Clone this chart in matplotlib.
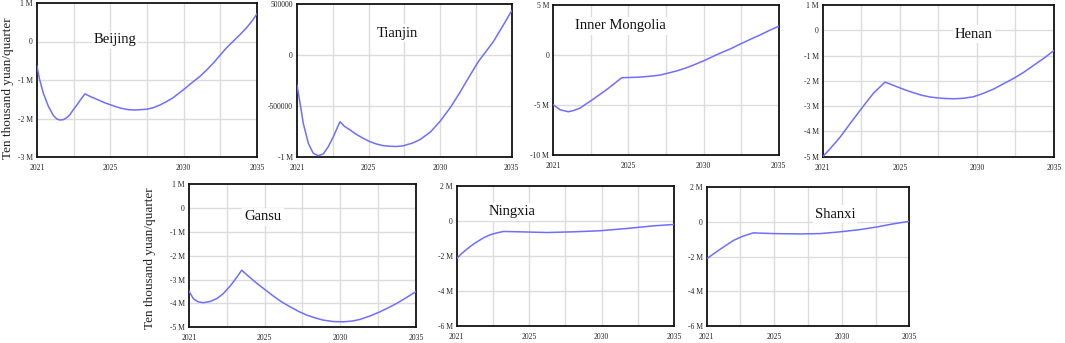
import matplotlib
matplotlib.use("Agg")
import matplotlib.pyplot as plt
import numpy as np

W, H = 1065, 343
plt.rcParams['font.family'] = ['Liberation Serif', 'DejaVu Serif']

# ---- data (values in millions of ten-thousand yuan / quarter) ----
beijing_t = [2021.00, 2021.15, 2021.40, 2021.72, 2022.04, 2022.25, 2022.46, 2022.68, 2022.89, 2023.10,
             2023.31, 2023.52, 2023.74, 2024.05, 2024.40, 2024.80, 2025.30, 2025.86, 2026.30, 2026.81,
             2027.23, 2027.97, 2028.40, 2028.82, 2029.25, 2029.66, 2030.30, 2030.80, 2031.36, 2031.80,
             2032.20, 2032.60, 2033.05, 2033.47, 2033.90, 2034.32, 2034.70, 2035.00]
beijing_v = [-0.64, -0.96, -1.34, -1.68, -1.92, -2.01, -2.04, -2.03, -1.98, -1.90,
             -1.77, -1.66, -1.53, -1.36, -1.43, -1.50, -1.59, -1.67, -1.73, -1.77,
             -1.78, -1.76, -1.72, -1.65, -1.56, -1.46, -1.26, -1.09, -0.91, -0.74,
             -0.57, -0.38, -0.17, 0.0, 0.17, 0.35, 0.54, 0.72]

tianjin_t = [2021.00, 2021.20, 2021.41, 2021.74, 2022.06, 2022.39, 2022.71, 2023.04, 2023.37, 2023.80,
             2024.10, 2024.46, 2024.89, 2025.32, 2025.76, 2026.19, 2026.60, 2027.06, 2027.50, 2027.93,
             2028.50, 2029.02, 2029.70, 2030.33, 2031.00, 2031.63, 2032.10, 2032.50, 2032.85, 2033.15,
             2033.80, 2034.40, 2035.00]
tianjin_v = [-0.294, -0.474, -0.670, -0.866, -0.964, -0.987, -0.971, -0.899, -0.801, -0.654,
             -0.700, -0.735, -0.780, -0.817, -0.850, -0.873, -0.888, -0.895, -0.897, -0.890,
             -0.865, -0.830, -0.755, -0.650, -0.515, -0.365, -0.245, -0.145, -0.060, 0.0,
             0.130, 0.280, 0.433]

inner_t = [2021.00, 2021.42, 2021.93, 2022.24, 2022.66, 2023.07, 2023.49, 2024.32, 2024.80, 2025.25,
           2025.76, 2026.39, 2027.05, 2027.63, 2028.04, 2028.70, 2029.28, 2029.80, 2030.32, 2031.36,
           2032.00, 2032.60, 2033.20, 2033.84, 2034.40, 2035.00]
inner_v = [-4.97, -5.46, -5.66, -5.55, -5.30, -4.85, -4.40, -3.45, -2.85, -2.27,
           -2.25, -2.21, -2.12, -2.01, -1.85, -1.58, -1.28, -0.95, -0.60, 0.17,
           0.60, 1.07, 1.52, 1.98, 2.42, 2.85]

henan_t = [2021.00, 2021.44, 2022.05, 2022.65, 2023.46, 2024.07, 2024.77, 2025.10, 2025.48, 2026.00,
           2026.49, 2027.00, 2027.50, 2028.20, 2028.91, 2029.50, 2030.12, 2030.70, 2031.33, 2031.90,
           2032.54, 2033.15, 2033.74, 2034.40, 2035.00]
henan_v = [-5.0, -4.69, -4.23, -3.70, -3.0, -2.49, -2.05, -2.13, -2.23, -2.36,
           -2.47, -2.57, -2.64, -2.69, -2.71, -2.69, -2.63, -2.50, -2.33, -2.13,
           -1.91, -1.67, -1.40, -1.10, -0.80]

gansu_t = [2021.00, 2021.27, 2021.55, 2021.88, 2022.30, 2022.71, 2023.10, 2023.53, 2023.90, 2024.25,
           2024.70, 2025.17, 2025.70, 2026.20, 2026.70, 2027.23, 2027.75, 2028.26, 2028.80, 2029.28,
           2029.90, 2030.52, 2031.05, 2031.55, 2032.15, 2032.78, 2033.30, 2033.81, 2034.40, 2035.00]
gansu_v = [-3.49, -3.80, -3.93, -3.97, -3.92, -3.80, -3.60, -3.28, -2.95, -2.61,
           -2.88, -3.15, -3.43, -3.69, -3.93, -4.14, -4.33, -4.49, -4.61, -4.70,
           -4.76, -4.77, -4.74, -4.67, -4.53, -4.35, -4.18, -4.00, -3.76, -3.50]

ningxia_t = [2021.00, 2021.30, 2021.64, 2022.00, 2022.40, 2022.75, 2023.15, 2023.55, 2024.01, 2025.08,
             2026.80, 2028.51, 2030.23, 2031.95, 2033.67, 2035.00]
ningxia_v = [-2.16, -1.88, -1.63, -1.38, -1.15, -0.96, -0.80, -0.70, -0.61, -0.63,
             -0.67, -0.63, -0.57, -0.44, -0.29, -0.21]

shanxi_t = [2021.00, 2021.92, 2022.84, 2023.50, 2024.22, 2025.61, 2027.45, 2028.83, 2030.21, 2031.59,
            2032.74, 2033.89, 2035.00]
shanxi_v = [-2.12, -1.58, -1.07, -0.82, -0.63, -0.67, -0.69, -0.67, -0.57, -0.44,
            -0.29, -0.11, 0.04]

x_tick_labels = ["2021", "2025", "2030", "2035"]

# (name, t, v, yticks, yticklabels, rect px (l, r, t, b), label pos px)
panels = [
    ("Beijing", beijing_t, beijing_v, [-3, -2, -1, 0, 1], ["-3 M", "-2 M", "-1 M", "0", "1 M"],
     (37, 257, 3, 157), (115, 40)),
    ("Tianjin", tianjin_t, tianjin_v, [-1, -0.5, 0, 0.5], ["-1 M", "-500000", "0", "500000"],
     (297, 511.7, 4, 157), (397, 33)),
    ("Inner Mongolia", inner_t, inner_v, [-10, -5, 0, 5], ["-10 M", "-5 M", "0", "5 M"],
     (553.3, 778.7, 4.7, 155.3), (620, 26)),
    ("Henan", henan_t, henan_v, [-5, -4, -3, -2, -1, 0, 1],
     ["-5 M", "-4 M", "-3 M", "-2 M", "-1 M", "0", "1 M"],
     (822.7, 1054, 5, 156.7), (974, 34)),
    ("Gansu", gansu_t, gansu_v, [-5, -4, -3, -2, -1, 0, 1],
     ["-5 M", "-4 M", "-3 M", "-2 M", "-1 M", "0", "1 M"],
     (189, 416, 184, 327.3), (263, 217)),
    ("Ningxia", ningxia_t, ningxia_v, [-6, -4, -2, 0, 2], ["-6 M", "-4 M", "-2 M", "0", "2 M"],
     (456.7, 674, 185.7, 326), (512, 212)),
    ("Shanxi", shanxi_t, shanxi_v, [-6, -4, -2, 0, 2], ["-6 M", "-4 M", "-2 M", "0", "2 M"],
     (706.7, 909.3, 187.3, 326), (835, 214)),
]

fig = plt.figure(figsize=(W / 100, H / 100), dpi=100)
fig.patch.set_facecolor("white")

grid_x = np.linspace(2021, 2035, 7)
for name, t, v, yt, ytl, (l, r, tp, b), (lx, ly) in panels:
    ax = fig.add_axes([l / W, 1 - b / H, (r - l) / W, (b - tp) / H])
    ax.set_xlim(2021, 2035)
    ax.set_ylim(yt[0], yt[-1])
    for gx in grid_x[1:-1]:
        ax.axvline(gx, color="#dcdcdc", lw=1.0, zorder=0)
    for gy in yt[1:-1]:
        ax.axhline(gy, color="#dcdcdc", lw=1.0, zorder=0)
    ax.plot(t, v, color="#6e6eff", lw=1.1, zorder=3)
    ax.set_xticks([grid_x[0], grid_x[2], grid_x[4], grid_x[6]])
    ax.set_xticklabels(x_tick_labels)
    ax.set_yticks(yt)
    ax.set_yticklabels(ytl)
    ax.tick_params(axis="y", length=0, labelsize=5.5, pad=3, colors="#222222")
    ax.tick_params(axis="x", length=0, labelsize=5.5, pad=5, colors="#222222")
    for s in ax.spines.values():
        s.set_linewidth(1.3)
        s.set_color("#111111")
    fig.text(lx / W, 1 - ly / H, name, ha="center", va="center", fontsize=10.5, color="#111111",
             zorder=5, bbox=dict(facecolor="white", edgecolor="none", pad=1.5))

fig.text(8 / W, 1 - 88 / H, "Ten thousand yuan/quarter", rotation=90, ha="center", va="center",
         fontsize=9.5, color="#222222")
fig.text(150 / W, 1 - 258 / H, "Ten thousand yuan/quarter", rotation=90, ha="center", va="center",
         fontsize=9.5, color="#222222")

fig.savefig("out.png", dpi=100, facecolor="white")
